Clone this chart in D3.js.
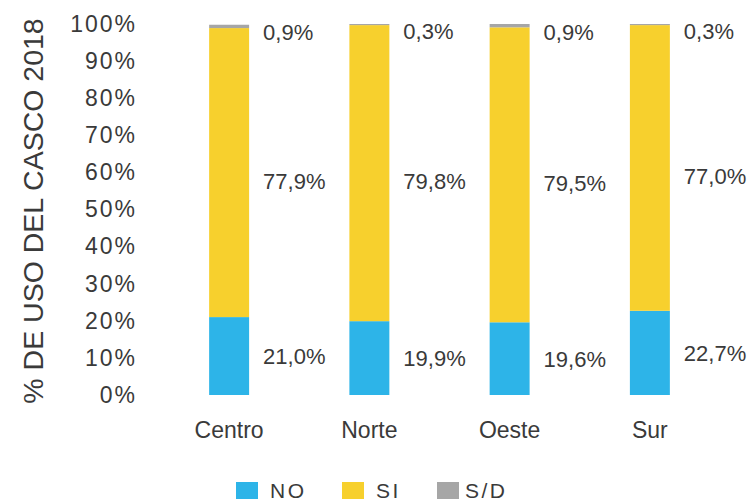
<!DOCTYPE html>
<html>
<head>
<meta charset="utf-8">
<script src="https://cdn.jsdelivr.net/npm/d3@7"></script>
<style>
  body { margin: 0; background: #fff; }
  text { font-family: "Liberation Sans", Arial, sans-serif; fill: #3a3a3a; }
</style>
</head>
<body>
<div id="chart"></div>
<script>
// data
const zonas = ["Centro", "Norte", "Oeste", "Sur"];
const seriesKeys = ["NO", "SI", "S/D"];
const valoresNO = [21.0, 19.9, 19.6, 22.7];
const valoresSI = [77.9, 79.8, 79.5, 77.0];
const valoresSD = [0.9, 0.3, 0.9, 0.3];
const yTicks = [0, 10, 20, 30, 40, 50, 60, 70, 80, 90, 100];
const colores = ["#2db4e8", "#f7d02d", "#a6a6a6"];

const width = 751, height = 504;

const data = zonas.map((z, i) => ({
  zona: z, "NO": valoresNO[i], "SI": valoresSI[i], "S/D": valoresSD[i]
}));

const svg = d3.select("#chart")
  .append("svg")
  .attr("width", width)
  .attr("height", height);

// scales
const x = d3.scaleBand()
  .domain(zonas)
  .range([159, 720])
  .paddingInner(0.715)
  .paddingOuter(0.3575);

const y = d3.scaleLinear().domain([0, 100]).range([395, 24]);

const color = d3.scaleOrdinal().domain(seriesKeys).range(colores);

const fmt = v => d3.format(".1f")(v).replace(".", ",") + "%";

// y axis (labels only)
const yAxis = svg.append("g")
  .attr("transform", "translate(137,0)")
  .call(d3.axisLeft(y).tickValues(yTicks).tickSize(0).tickPadding(0)
    .tickFormat(d => d + "%"));
yAxis.select(".domain").remove();
yAxis.selectAll("text")
  .style("font-size", "23px")
  .style("letter-spacing", "2px")
  .style("font-family", "Liberation Sans, Arial, sans-serif")
  .attr("fill", "#3a3a3a");

// axis title
svg.append("text")
  .attr("transform", "translate(43,211) rotate(-90)")
  .attr("text-anchor", "middle")
  .style("font-size", "28.5px")
  .text("% DE USO DEL CASCO 2018");

// x axis labels
const xAxis = svg.append("g")
  .attr("transform", "translate(0,438)")
  .call(d3.axisBottom(x).tickSize(0).tickPadding(0));
xAxis.select(".domain").remove();
xAxis.selectAll("text")
  .attr("dy", 0)
  .style("font-size", "23px")
  .style("font-family", "Liberation Sans, Arial, sans-serif")
  .attr("fill", "#3a3a3a");

// stacked bars
const stacked = d3.stack().keys(seriesKeys)(data);

const layers = svg.append("g")
  .selectAll("g")
  .data(stacked)
  .join("g")
  .attr("fill", d => color(d.key));

layers.selectAll("rect")
  .data(d => d)
  .join("rect")
  .attr("x", d => x(d.data.zona))
  .attr("y", d => y(d[1]))
  .attr("width", x.bandwidth())
  .attr("height", d => y(d[0]) - y(d[1]));

// value labels
const labelOffset = { "NO": 8, "SI": 16, "S/D": 14 };
svg.append("g")
  .selectAll("g")
  .data(stacked)
  .join("g")
  .selectAll("text")
  .data(d => d.map(s => ({ key: d.key, s: s })))
  .join("text")
  .attr("x", d => x(d.s.data.zona) + x.bandwidth() + 14)
  .attr("y", d => y((d.s[0] + d.s[1]) / 2) + labelOffset[d.key])
  .style("font-size", "22px")
  .text(d => fmt(d.s.data[d.key]));

// legend
const legendX = [236, 342, 437];
const legend = svg.append("g")
  .selectAll("g")
  .data(seriesKeys)
  .join("g")
  .attr("transform", (d, i) => `translate(${legendX[i]},482)`);
legend.append("rect")
  .attr("width", 22)
  .attr("height", 17)
  .attr("fill", d => color(d));
legend.append("text")
  .attr("x", d => d === "S/D" ? 28 : 34)
  .attr("y", 16)
  .style("font-size", "21px")
  .style("letter-spacing", "2.5px")
  .text(d => d);
</script>
</body>
</html>
